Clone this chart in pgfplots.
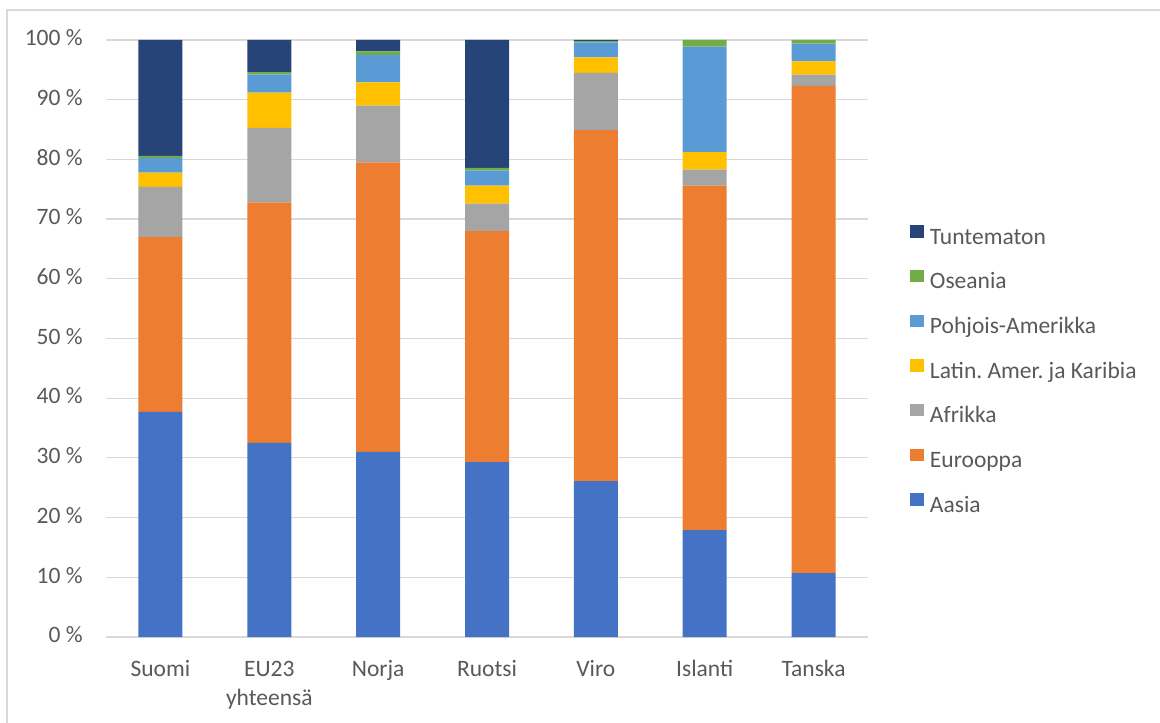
\documentclass[border=0pt]{standalone}
\usepackage{pgfplots}
\pgfplotsset{compat=1.18}
\usepackage{fontspec}
\setmainfont{Carlito}
\frenchspacing
\definecolor{cAs}{HTML}{4472C4}
\definecolor{cEu}{HTML}{ED7D31}
\definecolor{cAf}{HTML}{A5A5A5}
\definecolor{cLa}{HTML}{FFC000}
\definecolor{cPa}{HTML}{5B9BD5}
\definecolor{cOc}{HTML}{70AD47}
\definecolor{cTu}{HTML}{264478}
\definecolor{tickgray}{HTML}{595959}
\definecolor{gridgray}{HTML}{D9D9D9}
\begin{document}
\begin{tikzpicture}
\useasboundingbox (0,0) rectangle (580pt,361pt);
\draw[gridgray, line width=0.6pt] (3.5pt,-10pt) rectangle (600pt,356pt);
\begin{axis}[
  at={(53pt,42.5pt)}, anchor=south west,
  scale only axis, width=381pt, height=298.5pt,
  ybar stacked, bar width=22pt,
  xmin=-0.5, xmax=6.5, ymin=0, ymax=100,
  xtick={0,...,6},
  xticklabels={Suomi,{EU23\\yhteensä},Norja,Ruotsi,Viro,Islanti,Tanska},
  ytick={0,10,...,100},
  yticklabels={0 \%,10 \%,20 \%,30 \%,40 \%,50 \%,60 \%,70 \%,80 \%,90 \%,100 \%},
  ymajorgrids, grid style={gridgray, line width=0.6pt},
  axis line style={draw=none}, major tick length=0pt,
  tick label style={font=\fontsize{11.75}{14.5}\selectfont, text=tickgray},
  typeset ticklabels with strut,
  xticklabel style={align=center, anchor=north, inner sep=0pt, yshift=-9.3pt},
  yticklabel style={anchor=east, inner sep=0pt, xshift=-11.5pt},
  reverse legend,
  legend cell align=left,
  legend image code/.code={\fill[#1] (0pt,0.5pt) rectangle (7pt,6.7pt); \path (10pt,0pt);},
  legend style={draw=none, fill=none, at={(1.0551,0.445)}, anchor=west,
    inner sep=0pt, outer sep=0pt, row sep=10.4pt,
    font=\fontsize{11.75}{14.5}\selectfont, text=tickgray,
    nodes={inner sep=0pt, text height=8pt, text depth=2.5pt}},
]
\addplot[fill=cAs, draw=none] coordinates {(0,37.7) (1,32.5) (2,31.0) (3,29.3) (4,26.1) (5,17.9) (6,10.7)};
\addlegendentry{Aasia}
\addplot[fill=cEu, draw=none] coordinates {(0,29.3) (1,40.3) (2,48.5) (3,38.7) (4,58.8) (5,57.7) (6,81.6)};
\addlegendentry{Eurooppa}
\addplot[fill=cAf, draw=none] coordinates {(0,8.4) (1,12.5) (2,9.5) (3,4.6) (4,9.6) (5,2.7) (6,1.9)};
\addlegendentry{Afrikka}
\addplot[fill=cLa, draw=none] coordinates {(0,2.4) (1,5.9) (2,3.9) (3,3.0) (4,2.6) (5,2.9) (6,2.2)};
\addlegendentry{Latin. Amer. ja Karibia}
\addplot[fill=cPa, draw=none] coordinates {(0,2.4) (1,3.0) (2,4.6) (3,2.5) (4,2.5) (5,17.7) (6,3.0)};
\addlegendentry{Pohjois-Amerikka}
\addplot[fill=cOc, draw=none] coordinates {(0,0.4) (1,0.4) (2,0.6) (3,0.5) (4,0.2) (5,1.1) (6,0.6)};
\addlegendentry{Oseania}
\addplot[fill=cTu, draw=none] coordinates {(0,19.4) (1,5.4) (2,1.9) (3,21.4) (4,0.2) (5,0) (6,0)};
\addlegendentry{Tuntematon}
\end{axis}
\end{tikzpicture}
\end{document}
